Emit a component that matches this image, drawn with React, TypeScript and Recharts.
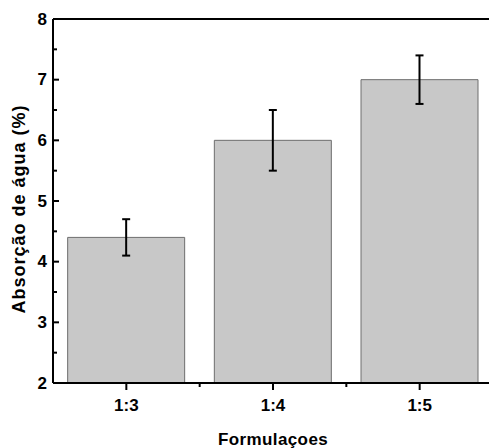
import React from 'react';
import { BarChart, Bar, XAxis, YAxis, ErrorBar, ReferenceLine } from 'recharts';

// Absorção de água por formulação
const formulations = ['1:3', '1:4', '1:5'];
const absorption = [4.4, 6.0, 7.0];
const errors = [0.3, 0.5, 0.4];
const yTicks = [2, 2.5, 3, 3.5, 4, 4.5, 5, 5.5, 6, 6.5, 7, 7.5, 8];

const data = formulations.map((name, i) => ({ name, value: absorption[i], err: errors[i] }));

const CHART_W = 493;
const CHART_H = 448;
const Y_AXIS_W = 53;
const BAND = (CHART_W - Y_AXIS_W) / formulations.length;
const FONT = '"Liberation Sans", Arial, sans-serif';

const YTick = (props: any) => {
  const { x, y, payload } = props;
  const major = Number.isInteger(payload.value);
  return (
    <g>
      <line x1={x} x2={x + (major ? 6 : 4)} y1={y} y2={y} stroke="#000" strokeWidth={2} />
      {major && (
        <text x={x - 6} y={y} textAnchor="end" dominantBaseline="central"
          fontFamily={FONT} fontWeight="bold" fontSize={17} fill="#000">
          {payload.value}
        </text>
      )}
    </g>
  );
};

const XTick = (props: any) => {
  const { x, y, payload, index } = props;
  return (
    <g>
      <line x1={x} x2={x} y1={y} y2={y + 7} stroke="#000" strokeWidth={2} />
      {index > 0 && (
        <line x1={x - BAND / 2} x2={x - BAND / 2} y1={y} y2={y + 4} stroke="#000" strokeWidth={2} />
      )}
      <text x={x} y={y + 28} textAnchor="middle"
        fontFamily={FONT} fontWeight="bold" fontSize={17} fill="#000">
        {payload.value}
      </text>
    </g>
  );
};

const YLabel = (props: any) => {
  const { viewBox } = props;
  const cx = viewBox.x + 25;
  const cy = viewBox.y + viewBox.height / 2 + 8;
  return (
    <text x={cx} y={cy} transform={`rotate(-90 ${cx} ${cy})`} textAnchor="middle"
      fontFamily={FONT} fontWeight="bold" fontSize={18} letterSpacing={1} fill="#000">
      Absorção de água (%)
    </text>
  );
};

const XLabel = (props: any) => {
  const { viewBox } = props;
  const cx = viewBox.x + viewBox.width / 2;
  const cy = viewBox.y + 62;
  return (
    <text x={cx} y={cy} textAnchor="middle"
      fontFamily={FONT} fontWeight="bold" fontSize={17} letterSpacing={0.4} fill="#000">
      Formulaçoes
    </text>
  );
};

export default function App() {
  return (
    <div style={{ position: 'absolute', left: 0, top: 0, width: 489, height: 448, overflow: 'hidden', background: '#fff' }}>
      <BarChart width={CHART_W} height={CHART_H} data={data}
        margin={{ top: 19, right: 0, left: 0, bottom: 0 }} barCategoryGap="10%">
        <XAxis dataKey="name" height={65} tickSize={0} tickMargin={0} tickLine={false}
          axisLine={{ stroke: '#000', strokeWidth: 2 }} tick={<XTick />} interval={0}
          label={<XLabel />} />
        <YAxis width={Y_AXIS_W} domain={[2, 8]} ticks={yTicks} interval={0} tickSize={0} tickMargin={0}
          tickLine={false} axisLine={{ stroke: '#000', strokeWidth: 2 }} tick={<YTick />}
          label={<YLabel />} allowDataOverflow />
        <ReferenceLine y={8} stroke="#000" strokeWidth={2} />
        <Bar dataKey="value" fill="#c8c8c8" stroke="#6e6e6e" strokeWidth={1} isAnimationActive={false}>
          <ErrorBar dataKey="err" width={4} stroke="#000" strokeWidth={2} isAnimationActive={false} />
        </Bar>
      </BarChart>
    </div>
  );
}
